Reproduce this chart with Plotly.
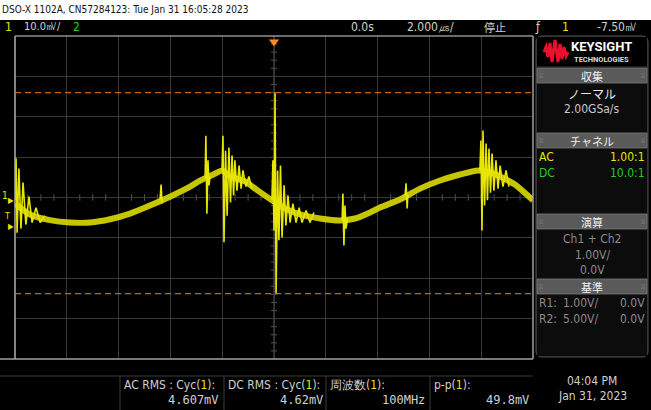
import plotly.graph_objects as go

# ---------------- data (time in µs, voltage in mV) ----------------
base_t = [-10.0, -9.42, -8.65, -7.88, -7.10, -6.33, -5.56, -4.79, -4.02, -3.24,
          -2.86, -2.28, -2.00, -1.70, -1.12, -0.62, -0.08, 0.42, 1.00, 1.78,
          2.55, 3.13, 3.71, 4.09, 4.86, 5.64, 6.41, 7.18, 7.88, 8.34,
          8.73, 9.30, 10.0]
base_v = [-1.5, -4.2, -5.6, -6.2, -6.2, -5.4, -4.0, -2.0, 0.2, 2.7,
          4.2, 5.9, 6.7, 5.2, 4.0, 1.7, -0.7, -2.7, -4.2, -5.2,
          -5.7, -5.2, -3.7, -2.5, -0.5, 2.2, 4.2, 5.7, 6.7, 6.2,
          5.2, 3.2, -0.7]

# ringing bursts (None separates bursts)
spike_t = [-10.0, -9.96, -9.92, -9.85, -9.77, -9.69, -9.58, -9.46, -9.34, -9.19, -9.03, -8.85, None,
           -4.40, -4.36, -4.32, None,
           -2.66, -2.63, -2.59, -2.55, -2.51, -2.47, None,
           -2.01, -1.97, -1.93, -1.87, -1.81, -1.74, -1.68, -1.62, -1.56, -1.51, -1.43, -1.35,
           -1.27, -1.20, -1.08, -0.97, -0.85, None,
           -0.08, -0.04, 0.00, 0.04, 0.08, 0.14, 0.19, 0.25, 0.31, 0.39, 0.46, 0.54, 0.62,
           0.73, 0.85, 0.97, 1.08, 1.24, 1.39, 1.54, None,
           2.63, 2.66, 2.70, 2.74, 2.78, 2.84, None,
           5.06, 5.10, 5.14, 5.17, None,
           7.95, 7.99, 8.03, 8.07, 8.13, 8.19, 8.24, 8.30, 8.36, 8.42, 8.49, 8.57, 8.65,
           8.73, 8.84, 8.96, 9.07]
spike_v = [-0.7, 9.7, -8.7, 7.2, -7.7, 3.7, -6.7, 0.2, -6.2, -2.5, -6.2, -4.5, None,
           -0.7, 3.2, -1.5, None,
           4.7, 15.3, -4.0, 9.2, 3.0, 5.2, None,
           6.7, 15.3, -11.1, 11.6, -4.5, 12.4, -1.2, 10.4, 0.5, 9.2, 1.7, 7.9,
           2.2, 6.7, 2.7, 5.2, 2.2, None,
           -0.7, 9.2, -8.2, 26.0, -23.8, 6.7, -10.6, 7.9, -9.9, 3.0, -6.9, 0.5, -6.2,
           -1.5, -6.2, -2.5, -6.2, -3.2, -6.2, -3.7, None,
           -5.7, 1.0, -11.9, -2.0, -7.7, -5.2, None,
           0.5, 3.5, -2.7, 0.7, None,
           6.7, 14.1, -8.2, 16.6, -2.0, 13.4, -0.7, 12.1, 1.2, 10.9, 1.7, 9.2, 2.2,
           7.9, 2.7, 6.7, 2.7]

cursor_levels = [26.0, -23.8]
trigger_level = -7.5

title_text = "DSO-X 1102A, CN57284123: Tue Jan 31 16:05:28 2023"
meas_labels = ["AC RMS : Cyc(<span style='color:#e6e600'>1</span>):",
               "DC RMS : Cyc(<span style='color:#e6e600'>1</span>):",
               "周波数(<span style='color:#e6e600'>1</span>):",
               "p-p(<span style='color:#e6e600'>1</span>):"]
meas_values = ["4.607mV", "4.62mV", "100MHz", "49.8mV"]

# ---------------- layout helpers (pixel -> paper) ----------------
W, H = 651, 410
PL, PR, PT, PB = 15, 533, 36, 359


def fx(px):
    return (px - PL) / (PR - PL)


def fy(py):
    return (PB - py) / (PB - PT)


NARROW = "DejaVu Sans Condensed, Liberation Sans Narrow, Roboto, sans-serif"
MONO = "DejaVu Sans Mono, monospace"
CJK = "Noto Sans CJK JP, sans-serif"
YEL = "#e6e600"
GRN = "#22cc22"
TXT = "#d0d0d0"

shapes = []
ann = []


def rect(x0, y0, x1, y1, fill, line=None, lw=0, layer="above"):
    shapes.append(dict(type="rect", xref="paper", yref="paper",
                       x0=fx(x0), x1=fx(x1), y0=fy(y1), y1=fy(y0),
                       fillcolor=fill, line=dict(color=line or fill, width=lw), layer=layer))


def hline(x0, x1, y, color, w=1):
    shapes.append(dict(type="line", xref="paper", yref="paper", x0=fx(x0), x1=fx(x1),
                       y0=fy(y), y1=fy(y), line=dict(color=color, width=w)))


def vline(x, y0, y1, color, w=1):
    shapes.append(dict(type="line", xref="paper", yref="paper", x0=fx(x), x1=fx(x),
                       y0=fy(y0), y1=fy(y1), line=dict(color=color, width=w)))


def txt(x, y, s, color=TXT, size=12, xa="left", ya="middle", family=NARROW):
    ann.append(dict(x=fx(x), y=fy(y), xref="paper", yref="paper", text=s, showarrow=False,
                    xanchor=xa, yanchor=ya, font=dict(color=color, size=size, family=family),
                    borderpad=0, borderwidth=0))


def rounded(x0, y0, x1, y1, r, fill, line, lw=1):
    X0, X1, Y0, Y1 = fx(x0), fx(x1), fy(y0), fy(y1)
    rx = r / (PR - PL)
    ry = r / (PB - PT)
    p = (f"M {X0+rx} {Y0} L {X1-rx} {Y0} Q {X1} {Y0} {X1} {Y0-ry} "
         f"L {X1} {Y1+ry} Q {X1} {Y1} {X1-rx} {Y1} L {X0+rx} {Y1} "
         f"Q {X0} {Y1} {X0} {Y1+ry} L {X0} {Y0-ry} Q {X0} {Y0} {X0+rx} {Y0} Z")
    shapes.append(dict(type="path", xref="paper", yref="paper", path=p,
                       fillcolor=fill, line=dict(color=line, width=lw)))


# top white band and title
rect(0, 0, W, 20, "white")
txt(2, 10, title_text, color="#111111", size=10)

# header bar texts
txt(5, 27, "1", color=YEL, size=12)
txt(24, 27, "10.0㎷/", size=11)
txt(73, 27, "2", color=GRN, size=12)
txt(362, 27, "0.0s", size=12, xa="center")
txt(430, 27, "2.000㎲/", size=12, xa="center")
txt(495, 27, "停止", size=11, xa="center", family=CJK)
txt(538, 27, "ƒ", size=12, xa="center")
txt(565, 27, "1", color=YEL, size=12, xa="center")
txt(637, 27, "-7.50㎷", size=12, xa="right")

# plot frame
hline(0, PR, PB, "#a0a0a0", 1.5)
vline(PL, PT, PB, "#b0b0b0", 1.5)
vline(PR, PT, PB, "#a0a0a0", 1.5)
hline(PL, PR, PT, "#909090", 1.5)

# centre lines with minor ticks
shapes.append(dict(type="line", xref="x", yref="y", x0=-10, x1=10, y0=0, y1=0,
                   line=dict(color="#4a4a4a", width=1.2), layer="below"))
shapes.append(dict(type="line", xref="x", yref="y", x0=0, x1=0, y0=-40, y1=40,
                   line=dict(color="#4a4a4a", width=1.2), layer="below"))
for i in range(-20, 21):
    t = i * 0.5
    shapes.append(dict(type="line", xref="x", yref="y", x0=t, x1=t, y0=-0.8, y1=0.8,
                       line=dict(color="#555555", width=1), layer="below"))
for i in range(-20, 21):
    v = i * 2.0
    shapes.append(dict(type="line", xref="x", yref="y", x0=-0.12, x1=0.12, y0=v, y1=v,
                       line=dict(color="#555555", width=1), layer="below"))

# cursor lines
for lv in cursor_levels:
    shapes.append(dict(type="line", xref="x", yref="y", x0=-10, x1=10, y0=lv, y1=lv,
                       line=dict(color="#c8640a", width=1.3, dash="6px,4px")))

# left markers
txt(2, 196, "1", color=YEL, size=10)
txt(8, 200, "▶", color=YEL, size=8)
txt(4, 216, "T", color=YEL, size=9)
txt(8, 227, "▶", color=YEL, size=8)

# right panel
rounded(536, 36, 648, 357, 6, "#1a1a1a", "#555555", 1)
rect(537, 37, 647, 66, "#000000")
# keysight logo
logo_px = [(544, 52), (546, 47), (548, 57), (550, 43), (552, 62), (555, 40), (558, 62),
           (560, 44), (562, 59), (564, 47), (566, 56), (568, 52)]
path = "M " + " L ".join(f"{fx(a)} {fy(b)}" for a, b in logo_px)
shapes.append(dict(type="path", xref="paper", yref="paper", path=path,
                   line=dict(color="#e8112d", width=3)))
txt(571, 47, "<b>KEYSIGHT</b>", color="white", size=13, family="Roboto, sans-serif")
txt(574, 59, "<b>TECHNOLOGIES</b>", color="#dddddd", size=7.5, family="Roboto, sans-serif")

# sections
sections = [(68, 83, "収集"), (133, 148, "チャネル"), (214, 229, "演算"), (279, 294, "基準")]
content_bg = [(83, 133), (148, 214), (229, 279), (294, 356)]
for (a, b) in content_bg:
    rect(537, a, 647, b, "#0c0c0c")
for (a, b, s) in sections:
    rect(537, a, 647, b, "#5a5a5a", "#7a7a7a", 0.8)
    txt(592, (a + b) / 2, s, color="#f0f0f0", size=11, xa="center", family=CJK)
    txt(541, (a + b) / 2, "⁞⁞", color="#909090", size=7, xa="center")
    txt(643, (a + b) / 2, "⁞⁞", color="#909090", size=7, xa="center")

txt(592, 93, "ノーマル", color="#e8e8e8", size=12, xa="center", family=CJK)
txt(592, 109, "2.00GSa/s", color="#c8c8c8", size=12, xa="center")
txt(539, 157, "AC", color=YEL, size=12)
txt(645, 157, "1.00:1", color=YEL, size=12, xa="right")
txt(539, 173, "DC", color=GRN, size=12)
txt(645, 173, "10.0:1", color=GRN, size=12, xa="right")
txt(592, 239, "Ch1 + Ch2", color="#8a8a8a", size=12, xa="center")
txt(592, 255, "1.00V/", color="#8a8a8a", size=12, xa="center")
txt(592, 270, "0.0V", color="#8a8a8a", size=12, xa="center")
txt(539, 303, "R1:", color="#8a8a8a", size=12)
txt(563, 303, "1.00V/", color="#8a8a8a", size=12)
txt(645, 303, "0.0V", color="#8a8a8a", size=12, xa="right")
txt(539, 319, "R2:", color="#8a8a8a", size=12)
txt(563, 319, "5.00V/", color="#8a8a8a", size=12)
txt(645, 319, "0.0V", color="#8a8a8a", size=12, xa="right")

# measurement area
hline(0, PR, 376, "#3c3c3c", 1)
box_x = [120, 224, 326, 430]
for i, bx in enumerate(box_x):
    vline(bx, 376, 410, "#3c3c3c", 1)
    txt(bx + 4, 385, meas_labels[i], size=12)
    txt(bx + 99, 400, meas_values[i], size=12, xa="right", family=MONO)

txt(592, 381, "04:04 PM", size=12, xa="center")
txt(592, 396, "Jan 31, 2023", size=12, xa="center")

# ---------------- figure ----------------
fig = go.Figure()
fig.add_trace(go.Scatter(x=base_t, y=base_v, mode="lines", opacity=0.9,
                         line=dict(color="#dcdc00", width=6, shape="spline", smoothing=0.6),
                         hoverinfo="skip", showlegend=False))
fig.add_trace(go.Scatter(x=spike_t, y=spike_v, mode="lines", connectgaps=False,
                         line=dict(color="#e6e600", width=1.6),
                         hoverinfo="skip", showlegend=False))
# trigger position marker
fig.add_trace(go.Scatter(x=[0], y=[38.6], mode="markers",
                         marker=dict(symbol="triangle-down", size=9, color="#ff8c1a"),
                         cliponaxis=False, hoverinfo="skip", showlegend=False))

fig.update_layout(
    width=W, height=H,
    margin=dict(l=PL, r=W - PR, t=PT, b=H - PB, pad=0),
    paper_bgcolor="black", plot_bgcolor="black",
    shapes=shapes, annotations=ann, showlegend=False,
    xaxis=dict(range=[-10, 10], dtick=2, tick0=-10, showgrid=True, gridcolor="#383838",
               gridwidth=1, zeroline=False, showticklabels=False, ticks="", fixedrange=True),
    yaxis=dict(range=[-40, 40], dtick=10, tick0=-40, showgrid=True, gridcolor="#383838",
               gridwidth=1, zeroline=False, showticklabels=False, ticks="", fixedrange=True),
)

fig.write_html("out.html", config={"displayModeBar": False},
               post_script="document.body.style.margin='0';")
